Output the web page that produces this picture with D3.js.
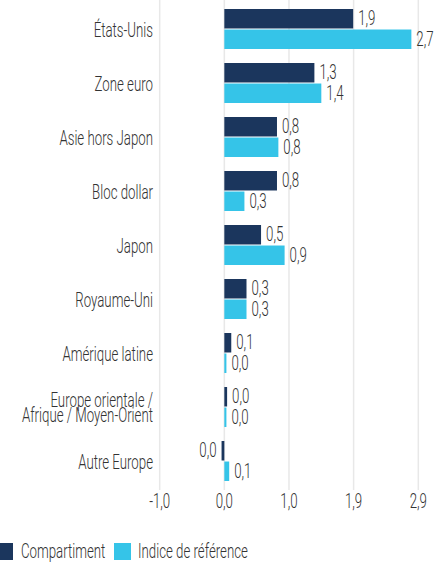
<!DOCTYPE html>
<html>
<head>
<meta charset="utf-8">
<script src="https://cdn.jsdelivr.net/npm/d3@7"></script>
<style>
html, body { margin: 0; padding: 0; background: #fff; }
svg { display: block; }
text { font-family: Roboto, "Noto Sans", sans-serif; font-weight: 300; fill: #333333; }
</style>
</head>
<body>
<svg id="chart" width="438" height="565"></svg>
<script>
const categories = ["États-Unis", "Zone euro", "Asie hors Japon", "Bloc dollar", "Japon", "Royaume-Uni", "Amérique latine", "Europe orientale /\nAfrique / Moyen-Orient", "Autre Europe"];
const seriesNames = ["Compartiment", "Indice de référence"];
const compartiment = [1.86, 1.30, 0.76, 0.76, 0.53, 0.32, 0.10, 0.04, -0.04];
const indice = [2.70, 1.40, 0.78, 0.29, 0.87, 0.32, 0.03, 0.03, 0.07];
const tickValues = [-0.933, 0, 0.933, 1.866, 2.8];
const tickLabels = ["-1,0", "0,0", "1,0", "1,9", "2,9"];
const colors = ["#1b365d", "#35c4e8"];

const FS = 19.5, SX = 0.68;
const svg = d3.select("#chart");
const x = d3.scaleLinear().domain([-0.933, 2.8]).range([159.7, 418.3]);
const y = d3.scaleBand().domain(categories)
  .range([9, 9 + 54 * categories.length - 14]).paddingInner(14 / 54).paddingOuter(0);
const inner = d3.scaleBand().domain([0, 1]).range([0, y.bandwidth()]).paddingInner(2 / 40);

const fmtLocale = d3.formatLocale({decimal: ",", thousands: " ", grouping: [3], currency: ["", "€"], minus: "-"});
const fmt = fmtLocale.format(".1f");

function label(parent, tx, ty, str, anchor) {
  return parent.append("text")
    .attr("transform", `translate(${tx},${ty}) scale(${SX},1)`)
    .attr("text-anchor", anchor || "start")
    .attr("font-size", FS)
    .text(str);
}

// gridlines
svg.append("g").selectAll("line").data(tickValues).join("line")
  .attr("x1", d => x(d)).attr("x2", d => x(d))
  .attr("y1", 0).attr("y2", 490)
  .attr("stroke", "#e8e8e8").attr("stroke-width", 1.5);

// tick labels
const tg = svg.append("g");
tickValues.forEach((d, i) => label(tg, x(d), 508, tickLabels[i], "middle"));

// category labels (multi-line labels as one text with tspans)
const catG = svg.append("g");
const LH = 14.5;
categories.forEach(c => {
  const lines = c.split("\n");
  const cy = y(c) + y.bandwidth() / 2;
  const t = catG.append("text")
    .attr("transform", `translate(153,${cy + 7.5 - (lines.length - 1) / 2 * LH}) scale(${SX},1)`)
    .attr("text-anchor", "end")
    .attr("font-size", FS);
  lines.forEach((l, i) => {
    t.append("tspan").attr("x", 0).attr("dy", i === 0 ? 0 : LH).text(l);
  });
});

// bars
const series = [compartiment, indice];
series.forEach((vals, si) => {
  const g = svg.append("g");
  g.selectAll("rect").data(vals).join("rect")
    .attr("x", d => x(Math.min(0, d)))
    .attr("width", d => Math.abs(x(d) - x(0)))
    .attr("y", (d, i) => y(categories[i]) + inner(si))
    .attr("height", inner.bandwidth())
    .attr("fill", colors[si]);
  vals.forEach((d, i) => {
    const ty = y(categories[i]) + inner(si) + inner.bandwidth() / 2 + 6.5;
    label(g, d < 0 ? x(d) - 5 : x(d) + 5, ty, fmt(d), d < 0 ? "end" : "start");
  });
});

// legend
const legX = [-4, 114];
const legTX = [21, 138];
const lg = svg.append("g");
seriesNames.forEach((n, i) => {
  lg.append("rect").attr("x", legX[i]).attr("y", 543).attr("width", 17).attr("height", 17).attr("fill", colors[i]);
  label(lg, legTX[i], 558, n, "start");
});
</script>
</body>
</html>
